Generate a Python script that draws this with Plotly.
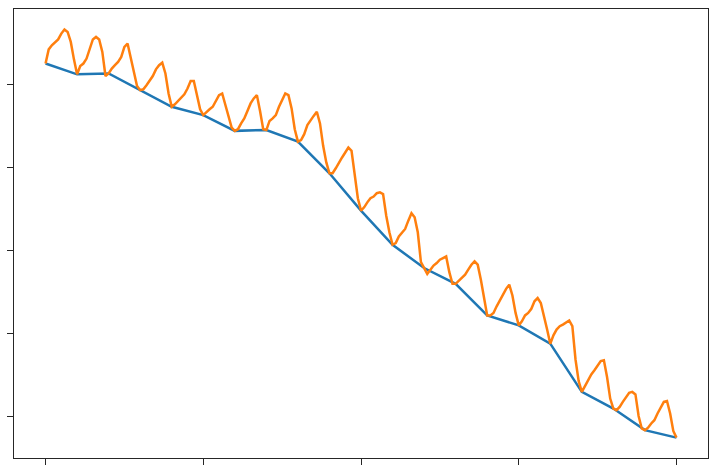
import numpy as np
import plotly.graph_objects as go

# coarse series: one value per step
steps = list(range(21))
coarse = [4.25, 4.12, 4.13, 3.93, 3.73, 3.63, 3.44, 3.45, 3.31, 2.93, 2.48,
          2.07, 1.79, 1.60, 1.22, 1.10, 0.88, 0.30, 0.10, -0.16, -0.25]

# fine series: ten samples per step (201 values)
fine = [
    4.25, 4.42, 4.47, 4.50, 4.54, 4.61, 4.66, 4.63, 4.51, 4.30, 4.12,
    4.22, 4.25, 4.31, 4.42, 4.54, 4.57, 4.54, 4.39, 4.10, 4.13,
    4.19, 4.23, 4.27, 4.33, 4.45, 4.49, 4.31, 4.16, 3.98, 3.93,
    3.94, 3.99, 4.04, 4.10, 4.18, 4.23, 4.26, 4.13, 3.89, 3.73,
    3.76, 3.80, 3.83, 3.88, 3.95, 4.04, 4.04, 3.86, 3.70, 3.63,
    3.67, 3.70, 3.73, 3.80, 3.87, 3.89, 3.75, 3.59, 3.48, 3.44,
    3.46, 3.53, 3.59, 3.68, 3.77, 3.83, 3.87, 3.68, 3.46, 3.45,
    3.56, 3.59, 3.63, 3.73, 3.82, 3.89, 3.87, 3.71, 3.46, 3.31,
    3.33, 3.40, 3.51, 3.57, 3.62, 3.67, 3.53, 3.26, 3.06, 2.93,
    2.93, 2.99, 3.06, 3.12, 3.18, 3.24, 3.20, 2.90, 2.63, 2.48,
    2.52, 2.58, 2.63, 2.65, 2.69, 2.70, 2.68, 2.42, 2.22, 2.07,
    2.09, 2.17, 2.22, 2.26, 2.36, 2.45, 2.40, 2.22, 1.86, 1.79,
    1.72, 1.77, 1.82, 1.85, 1.89, 1.91, 1.93, 1.74, 1.60, 1.60,
    1.64, 1.67, 1.71, 1.77, 1.83, 1.87, 1.83, 1.65, 1.43, 1.22,
    1.22, 1.25, 1.33, 1.40, 1.46, 1.54, 1.59, 1.46, 1.25, 1.10,
    1.15, 1.22, 1.25, 1.30, 1.39, 1.43, 1.37, 1.22, 1.05, 0.88,
    0.98, 1.05, 1.09, 1.11, 1.13, 1.16, 1.09, 0.69, 0.43, 0.30,
    0.37, 0.44, 0.51, 0.56, 0.61, 0.67, 0.68, 0.48, 0.22, 0.10,
    0.08, 0.12, 0.18, 0.24, 0.29, 0.30, 0.27, 0.01, -0.14, -0.16,
    -0.13, -0.08, -0.04, 0.04, 0.12, 0.18, 0.19, 0.04, -0.17, -0.25,
]
fine_x = np.arange(len(fine)) / 10

x_ticks = [0, 5, 10, 15, 20]
y_ticks = [0, 1, 2, 3, 4]

fig = go.Figure()
fig.add_trace(go.Scatter(x=steps, y=coarse, mode="lines",
                         line={"color": "#1f77b4", "width": 2.5}))
fig.add_trace(go.Scatter(x=fine_x, y=fine, mode="lines",
                         line={"color": "#ff7f0e", "width": 2.5}))

axis_style = dict(
    showgrid=False, zeroline=False, showticklabels=False,
    showline=True, mirror=True, linecolor="#262626", linewidth=1.25,
    ticks="outside", ticklen=6, tickwidth=1.25, tickcolor="#262626",
)
fig.update_xaxes(range=[-1, 21], tickvals=x_ticks, **axis_style)
fig.update_yaxes(range=[-0.495, 4.906], tickvals=y_ticks, **axis_style)

fig.update_layout(
    width=717, height=472,
    margin={"l": 11, "r": 8, "t": 8, "b": 12},
    plot_bgcolor="white", paper_bgcolor="white",
    showlegend=False,
)
# drop the page's default body margin so the figure sits at the window corner
fig.write_html("out.html", config={"displayModeBar": False},
               post_script="document.body.style.margin = '0';")
